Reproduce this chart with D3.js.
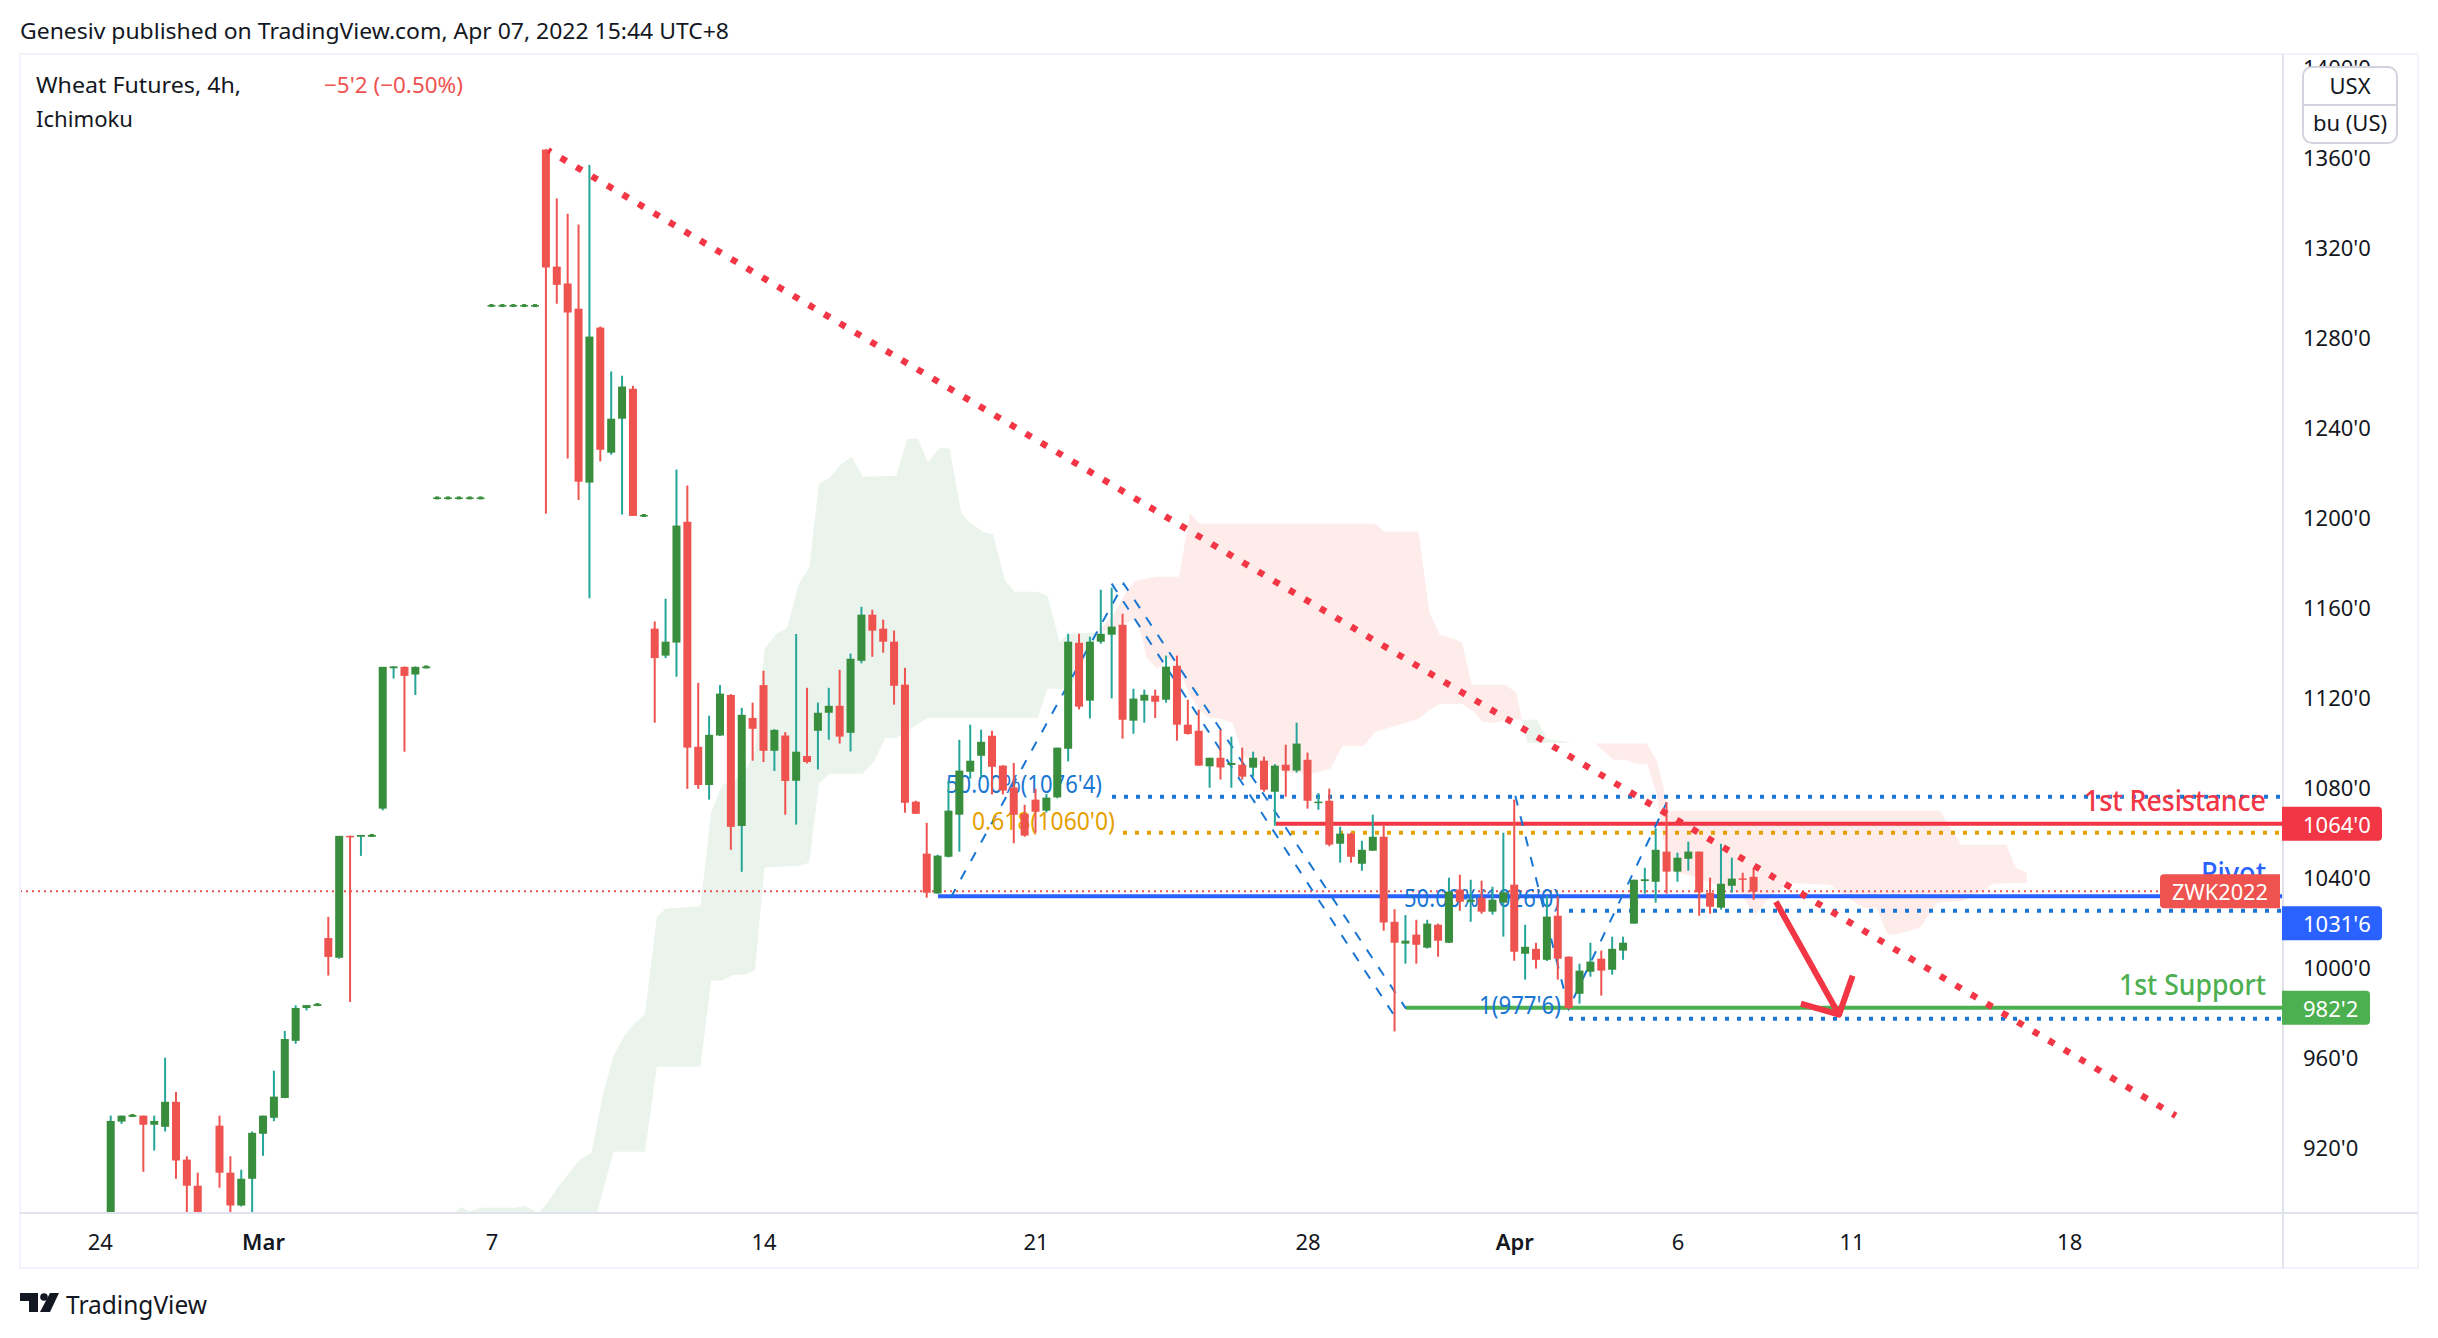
<!DOCTYPE html>
<html><head><meta charset="utf-8">
<script src="https://cdn.jsdelivr.net/npm/d3@7"></script>
<style>html,body{margin:0;padding:0;background:#fff}svg{display:block}text{font-family:"Noto Sans",sans-serif}</style>
</head><body><svg id="c" width="2438" height="1338"></svg>
<script>
const opens=[880,931.6,933.75,934.25,930.2,929.3,940.4,914.7,903.1,885,929.8,908.9,894.3,906.2,926.2,933.3,942.1,967.5,982.1,983,1013.2,1004.4,1058.6,1058.2,1058.2,1070.7,1133.1,1133.7,1130.3,1133.1,
1208.4,1208.4,1208.4,1208.4,1208.4,1293.9,1293.9,1293.9,1293.9,1293.9,1363.6,1311.6,1304.1,1292.9,1215.6,1284.5,1228.9,1244,1257.3,1200.8,1150.7,1138.7,1144.5,1198.2,1098.2,1081.2,1103.2,1121.2,1063,1111,1125.6,1096.4,1103.2,1083.1,
1094.1,1105.3,1113.3,1116.4,1104.4,1136.4,1156.9,1150.7,1144.9,1125.8,1073.8,1050.7,1033,1049.3,1068,1087.1,1094.2,1103.1,1089.8,1080.1,1068.3,1074.7,1069.8,1075.7,1097.3,1144.4,1118.7,1144.9,1148,1152.4,1109.8,1118.7,1120.9,1119.1,1134.2,1108,1105.3,1089.5,1093.3,1090.1,1090.2,1088.9,1092,1078.2,1090.2,1087.6,1092.4,1073.3,1074.2,1055.1,1059.6,1046.2,1052,1058.2,
1020.4,1010.7,1014.7,1008.9,1019.1,1011.1,1034.7,1029.3,1031.1,1024.9,1028.9,1036.9,1006.2,1008.4,1003.5,1023.1,1004.9,988.4,998.2,1004,999.1,1007.6,1019.6,1038.5,1038.2,1051.6,1042.7,1048.4,1051.6,1033.3,1026.7,1036.4,1039.7,1040.4];
const closes=[931.9,934.25,934.5,930.2,931.9,940.4,914.3,903.1,885,882,908.9,894.3,906.2,926.6,934.25,942.7,968.3,982.1,983.4,983.8,1004.8,1058.6,1058,1059,1059,1133.7,1133.9,1129.7,1133.7,1133.9,
1209,1209,1209,1209,1209,1294.5,1294.5,1294.5,1294.5,1294.5,1311.2,1303.5,1291.2,1216,1280.5,1230.2,1244,1258.3,1200.8,1201.2,1137.6,1144.9,1196.5,1097.8,1081.2,1103.5,1121.8,1062.6,1112.4,1106.2,1096.4,1105.7,1083,1096,
1091.4,1113.3,1116.4,1102.7,1137.3,1156.9,1149.8,1144.9,1125.3,1073.3,1068.4,1033.3,1049.8,1069.8,1087.6,1092,1100.4,1089.3,1078.7,1068,1058.7,1069.3,1075.6,1097.8,1144.9,1116,1144.9,1148.4,1151.6,1110.2,1119.6,1121.3,1118.2,1133.8,1108,1103.9,1089.8,1093.3,1089,1091,1084.9,1093.3,1079.1,1089.8,1087.6,1099.6,1074.2,1073.8,1054.7,1059.6,1049.3,1052.4,1058.2,1020.1,
1011.1,1012,1010.2,1019.6,1012,1033.8,1029.3,1030.2,1024.9,1030.2,1033.5,1007.1,1009.3,1003.5,1022.7,1004,982.1,998.7,1002.7,998.7,1008.4,1011.1,1039.1,1039.3,1052.4,1042.7,1048.9,1051.6,1033.5,1027.1,1037.3,1039.6,1039.1,1033.8];
const highs=[934.3,934.25,934.6,934.25,934.25,960,944.8,916.2,908.9,888,934.25,916.2,910.2,927.2,934.25,954.2,971.9,983.3,983.4,983.9,1022.6,1004.4,1058.7,1059,1059,1133.7,1134,1133.9,1133.9,1134,
1209,1209,1209,1209,1209,1294.5,1294.5,1294.5,1294.5,1294.5,1363.8,1341.9,1335.1,1330.3,1356.8,1285,1265,1263.1,1258.6,1201.2,1153.9,1164,1221.4,1214.3,1126.6,1112,1125.6,1121.6,1115.5,1117.8,1132,1106,1104.7,1148.3,
1124.4,1117.8,1124.4,1132.4,1139.6,1160.4,1159.1,1154.7,1149.8,1133.3,1074.2,1064.4,1050.2,1083,1101.3,1108,1105.8,1105.3,1090,1091,1072.4,1079.6,1077.2,1097.8,1148.4,1148.4,1147.1,1168,1168.9,1157.3,1124,1123.6,1123.6,1138.7,1138.7,1119.1,1114.7,1093.3,1105.8,1102.7,1097.8,1096,1093.8,1090.5,1099.1,1108.9,1095.6,1077.6,1079.6,1062.7,1060,1056.4,1068,1063,
1026,1023.4,1021.3,1021.3,1019.6,1040,1041.3,1039.1,1038.7,1036,1060,1074.7,1019.1,1011.1,1032,1031.6,1005,1001.8,1011.1,1007.6,1013.8,1013.8,1039.1,1044.4,1062,1073.6,1051.1,1056,1051.6,1040,1055.1,1048.9,1042.2,1044];
const lows=[878,930.6,933.5,909.3,918.7,927.2,906.2,885,880,878,902.2,885,893.9,885,916.4,931.8,942,966.2,981,983,996.5,1004,984.8,1049.7,1058,1069.9,1128.5,1096,1121.2,1133,
1208.4,1208.4,1208.4,1208.4,1208.4,1293.9,1293.9,1293.9,1293.9,1293.9,1201.8,1295.1,1226.3,1207.9,1164.2,1225,1228,1201.4,1200.8,1200.8,1108.9,1137.6,1129.3,1079.5,1079.5,1074.7,1103,1052.4,1042.6,1092,1091.4,1087.4,1068,1063.6,
1090.8,1088.1,1101.3,1099.6,1096.1,1135.3,1138.2,1140,1116.9,1068.9,1068.4,1031.1,1032.8,1049,1051.6,1084,1084.6,1077,1077,1055.3,1058.2,1060,1069,1075.3,1091.7,1114.8,1110.8,1144,1119.7,1101.8,1104,1108.9,1111,1117.8,1100.9,1103.6,1089.8,1080,1083.6,1080,1083.6,1084.9,1078.2,1063.1,1076,1086.7,1070.7,1070.2,1054,1046.7,1046.7,1043.1,1052,1016.4,
971.7,1001.8,1001.8,1008.5,1004.9,1011,1025.3,1020.4,1024,1023.6,1013.8,1003.1,994.7,999.6,1003,994.7,981.5,984,996,987.6,996.9,1003.5,1019.6,1032.9,1028.9,1032.9,1038.2,1043.1,1023.1,1024,1025.8,1033.3,1033.8,1030.2];

const greenUpIdx=[31.55,32.2,33,34,37.2,38.1,39.3,40.1,41.2,43.1,44.2,45.2,46.2,47.2,48.1,49.1,50.2,51,54.2,55.2,56.2,57.2,58.5,59.2,60.1,61.2,62.2,63.2,64.2,65.1,66.1,67.1,68.1,69.1,72.2,73.2,74.2,75.1,76.2,77.1,78.2,79.1,80.2,81.1,82.2,83.1,85.2,86.1,87.2,88.1,90.7];
const greenUpVal=[890.9,893.6,891.6,893.3,893.3,894.2,890.9,895.3,903.1,914.7,917.8,942.7,960.6,969.8,975.1,979.3,1022.7,1026.2,1027.3,1069.3,1081.3,1082.2,1088.9,1096.4,1141.8,1148.5,1151.1,1170.2,1177.8,1215.1,1217.8,1223.6,1227.1,1218.2,1218.7,1235.1,1235.1,1224.5,1231.1,1230.7,1201.8,1197.3,1193.8,1192.5,1172,1167.1,1167.1,1165.3,1144.9,1148.5,1148.9];
const greenLowIdx=[44.7,46.2,49.1,50.2,54.2,55.2,56.2,57.2,58.2,59.2,60.1,63.2,64.2,65.1,66.1,69.1,70.2,71.2,72.2,75.1,85.2,86.1,88.1,90.7];
const greenLowVal=[890.9,918.2,918.2,956,956,994.2,994.2,996.9,996.9,998.7,1044.5,1045.3,1046.7,1081.8,1086.2,1086.2,1092,1102.2,1102.2,1111.1,1111.1,1124,1124,1148.9];
const redUpIdx=[90.7,92.4,93.4,94.2,96.1,98.2,99.2,100.1,116.2,117.1,120.2,121.2,122.2,123.2,124.2,125.1,128.2,129.2,129.7];
const redUpVal=[1148.9,1158.7,1167.6,1172,1173.8,1173.8,1202.2,1197.3,1197.3,1193.8,1193.8,1157.8,1147.6,1146.7,1144.4,1125.8,1125.8,1122.2,1110.2];
const redLowIdx=[90.7,92.3,94.2,94.7,95.2,96.2,97.1,98,99.1,100.1,101,102,103.1,104.1,105,106.1,107.1,108.1,110.7,112.1,113.2,115.2,116.2,118.2,120.2,121.2,122.2,124.2,125.2,126.1,127.2,128.6,129.7];
const redLowVal=[1148.9,1151.1,1155.1,1148.5,1137.8,1132.9,1137.8,1135.1,1121.8,1114.2,1111.1,1110.7,1108.9,1094.2,1090.7,1089.8,1088.9,1086.7,1086.7,1088.4,1098.7,1098.7,1104.9,1107.6,1110.7,1114.7,1117.3,1117.3,1114.2,1109.3,1108.9,1110.7,1110.2];
const green2UpIdx=[129.7,131.1,132,134.4,136.1];
const green2UpVal=[1110.2,1110.2,1101.8,1100,1101.3];
const green2LowIdx=[129.7,130.2,134.4,136.1];
const green2LowVal=[1110.2,1100,1100,1101.3];
const red2UpIdx=[136.1,136.6,141.2,142.1,142.9,143.1,168.1,170.1,174.2,175.1,176.1];
const red2UpVal=[1101.3,1099.6,1099.6,1092,1076.4,1069.8,1069.8,1054.7,1054.7,1044.4,1042.2];
const red2LowIdx=[136.1,138.1,139.2,140.2,141.2,142.1,142.8,143.1,144.5,145.8,149.8,151.1,152.2,154.1,158,159.2,161.1,162.3,163.3,164.3,166.3,167.9,170.2,172.1,173,176.1];
const red2LowVal=[1101.3,1092.4,1092.4,1090.7,1090.7,1077.3,1053.3,1043.1,1041.8,1040,1032.9,1023.1,1029.8,1037.8,1036.9,1032.9,1026.7,1026.7,1014.7,1015.1,1017.8,1028.9,1029.8,1034.2,1037.3,1037.8];

const priceTicks=[1400,1360,1320,1280,1240,1200,1160,1120,1080,1040,1000,960,920];
const timeTickIdx=[-1,14,35,60,85,110,129,144,160,180];
const timeTickLabels=["24","Mar","7","14","21","28","Apr","6","11","18"];
const strongTicks=["Mar","Apr"];
const lastPrice=1034;
const resistance=1064, pivot=1031.75, support=982.25;
const fib50=1076, fib618=1060, fibLow50=1025.3, fibLow1=977.3;
const trendIdx=[40.2,189.8], trendVal=[1363.3,934.2];
const arrowIdx=[153.05,158.85], arrowVal=[1029.3,979.1];
const headIdx=[155.35,158.85,160.1], headVal=[984,979.1,996.4];
const zigA=[[77.2,1031.1],[93.1,1170.7],[119.05,981.8]];
const zigB=[[92,1170.7],[118.1,977.8]];
const zigC=[[129.1,1076.4],[134,981.8],[143,1073.3]];

const svg=d3.select("#c");
const L=20,R=2283,T=54,B=1213,FR=2418,FB=1268;
const x=d3.scaleLinear().domain([0,151]).range([110.7,1753.6]);
const y=d3.scaleLinear().domain([1360,1000]).range([157.7,967.7]);
svg.append("defs").append("clipPath").attr("id","plot").append("rect").attr("x",L).attr("y",T).attr("width",R-L).attr("height",B-T);
svg.append("defs").append("clipPath").attr("id","ax").append("rect").attr("x",R).attr("y",T).attr("width",FR-R).attr("height",B-T);

const ink="#131722", bull="#388e3c", bullWick="#26a69a", bear="#ef5350", lineRed="#f23645", lineBlue="#2962ff", lineGreen="#4caf50", fibBlue="#1976d2", fibGold="#e6a000";

function txt(g,s,px,py,size,fill,anchor,w,weight){
  const t=g.append("text").attr("x",px).attr("y",py).attr("font-size",size).attr("fill",fill).attr("text-anchor",anchor||"start").attr("dominant-baseline","central").text(s);
  if(w)t.attr("textLength",w).attr("lengthAdjust","spacingAndGlyphs");
  if(weight)t.attr("font-weight",weight);
  return t;
}
// header
txt(svg,"Genesiv published on TradingView.com, Apr 07, 2022 15:44 UTC+8",20,29.5,22,ink,"start",709);

const plot=svg.append("g").attr("clip-path","url(#plot)");
// clouds
function cloud(ui,uv,li,lv,fill){
  const pts=ui.map((d,k)=>[x(d),y(uv[k])]).concat(li.map((d,k)=>[x(d),y(lv[k])]).reverse());
  plot.append("path").attr("d",d3.line()(pts)+"Z").attr("fill",fill);
}
cloud(greenUpIdx,greenUpVal,greenLowIdx,greenLowVal,"#ebf4ec");
cloud(redUpIdx,redUpVal,redLowIdx,redLowVal,"#feecea");
cloud(green2UpIdx,green2UpVal,green2LowIdx,green2LowVal,"#ebf4ec");
cloud(red2UpIdx,red2UpVal,red2LowIdx,red2LowVal,"#feecea");

// last price line
plot.append("line").attr("x1",L).attr("x2",R).attr("y1",y(lastPrice)).attr("y2",y(lastPrice)).attr("stroke",bear).attr("stroke-width",2).attr("stroke-dasharray","2,4");
// fib + levels
function hline(v,x0,col,w,dash){
  const l=plot.append("line").attr("x1",x0).attr("x2",R).attr("y1",y(v)).attr("y2",y(v)).attr("stroke",col).attr("stroke-width",w);
  if(dash)l.attr("stroke-dasharray",dash);
}
hline(fib50,1112,fibBlue,4,"4,8");
hline(fib618,1123,fibGold,4,"4,8");
hline(fibLow50,1569,fibBlue,4,"4,8");
hline(fibLow1,1569,fibBlue,4,"4,8");
hline(resistance,1276,lineRed,4);
hline(pivot,938,lineBlue,4);
hline(support,1406,lineGreen,4);
const zig=d3.line().x(d=>x(d[0])).y(d=>y(d[1]));
[zigA,zigB,zigC].forEach(z=>plot.append("path").attr("d",zig(z)).attr("fill","none").attr("stroke",fibBlue).attr("stroke-width",2).attr("stroke-dasharray","10,11"));
txt(plot,"50.00%(1076'4)",946,783,25,fibBlue,"start",156);
txt(plot,"0.618(1060'0)",972,820,25,fibGold,"start",143);
txt(plot,"50.00%(1026'0)",1404,897,25,fibBlue,"start",156);
txt(plot,"1(977'6)",1479,1004,25,fibBlue,"start",82);

// candles
const bw=8;
opens.forEach((o,i)=>{
  const c=closes[i],h=highs[i],l=lows[i],up=c>=o,cx=x(i);
  const tiny=Math.abs(c-o)<1&&h-l<1.5;
  if(!tiny)plot.append("rect").attr("x",cx-1).attr("width",2).attr("y",y(h)).attr("height",Math.max(1,y(l)-y(h))).attr("fill",up?bullWick:bear);
  const top=y(Math.max(o,c)),hh=Math.max(1.5,Math.abs(y(o)-y(c)));
  plot.append("rect").attr("x",cx-bw/2).attr("width",bw).attr("y",top).attr("height",hh).attr("fill",up?bull:bear);
  if(tiny)plot.append("rect").attr("x",cx-2).attr("width",4).attr("y",top-1).attr("height",3).attr("fill",up?bull:bear);
});

// trend + arrow
plot.append("path").attr("d",d3.line()(trendIdx.map((d,k)=>[x(d),y(trendVal[k])]))).attr("fill","none").attr("stroke",lineRed).attr("stroke-width",6.5).attr("stroke-dasharray","6.5,11.52").attr("stroke-dashoffset",3.25);
plot.append("path").attr("d",d3.line()(arrowIdx.map((d,k)=>[x(d),y(arrowVal[k])]))).attr("fill","none").attr("stroke",lineRed).attr("stroke-width",6);
plot.append("path").attr("d",d3.line()(headIdx.map((d,k)=>[x(d),y(headVal[k])]))).attr("fill","none").attr("stroke",lineRed).attr("stroke-width",6).attr("stroke-linejoin","round");

// level captions
function cap(s,v,col,w){
  plot.append("text").attr("x",2266).attr("y",y(v)-13).attr("font-size",28).attr("font-weight",500).attr("fill",col).attr("text-anchor","end").attr("textLength",w).attr("lengthAdjust","spacingAndGlyphs").text(s);
}
cap("1st Resistance",resistance,lineRed,182);
cap("Pivot",pivot,lineBlue,65);
cap("1st Support",support,lineGreen,147);

// frame
const frame=svg.append("g");
frame.append("rect").attr("x",L).attr("y",T).attr("width",FR-L).attr("height",FB-T).attr("fill","none").attr("stroke","#f0f3fa").attr("stroke-width",2);
frame.append("line").attr("x1",R).attr("x2",R).attr("y1",T).attr("y2",FB).attr("stroke","#e0e3eb").attr("stroke-width",2);
frame.append("line").attr("x1",L).attr("x2",FR).attr("y1",B).attr("y2",B).attr("stroke","#e0e3eb").attr("stroke-width",2);

// legend
txt(svg,"Wheat Futures, 4h,",36,83.5,22,ink,"start",205);
txt(svg,"\u22125'2 (\u22120.50%)",324,83.5,22,bear,"start",139);
txt(svg,"Ichimoku",36,117.5,22,ink,"start",97);

// axes
const yAxis=d3.axisRight(y).tickValues(priceTicks).tickFormat(d=>d+"'0").tickSize(0).tickPadding(0);
const gy=svg.append("g").attr("clip-path","url(#ax)").append("g").attr("transform","translate(2303,-1)").call(yAxis);
gy.select(".domain").remove();
gy.selectAll("text").attr("font-size",22).attr("fill",ink).attr("font-family",'"Noto Sans",sans-serif').attr("dy",null).attr("dominant-baseline","central");
const xAxis=d3.axisBottom(x).tickValues(timeTickIdx).tickFormat((d,k)=>timeTickLabels[k]).tickSize(0).tickPadding(0);
const gx=svg.append("g").attr("transform","translate(0,1240.5)").call(xAxis);
gx.select(".domain").remove();
gx.selectAll("text").attr("font-size",22).attr("fill",ink).attr("font-family",'"Noto Sans",sans-serif').attr("y",0).attr("dy",null).attr("dominant-baseline","central").attr("font-weight",(d,k)=>strongTicks.includes(timeTickLabels[k])?600:400);

// unit box
const box=svg.append("g");
box.append("rect").attr("x",2303).attr("y",67).attr("width",94).attr("height",76).attr("rx",9).attr("fill","#fff").attr("stroke","#d1d4dc").attr("stroke-width",2);
box.append("line").attr("x1",2303).attr("x2",2397).attr("y1",105).attr("y2",105).attr("stroke","#d1d4dc").attr("stroke-width",2);
txt(box,"USX",2350,84.5,22,ink,"middle");
txt(box,"bu (US)",2350,121.5,22,ink,"middle");

// price tags
function tagR(v,w,col,s,shift){
  const cy=y(v)+(shift||0),h=34,r=4,x0=2282;
  svg.append("path").attr("d",`M${x0},${cy-h/2}H${x0+w-r}a${r},${r} 0 0 1 ${r},${r}V${cy+h/2-r}a${r},${r} 0 0 1 ${-r},${r}H${x0}Z`).attr("fill",col);
  txt(svg,s,2303,cy,22,"#fff");
}
tagR(resistance,100,lineRed,"1064'0");
tagR(pivot,100,lineBlue,"1031'6",27);
tagR(support,88,lineGreen,"982'2");
const zy=y(lastPrice);
svg.append("path").attr("d",`M2280,${zy-17}H2164a4,4 0 0 0 -4,4V${zy+13}a4,4 0 0 0 4,4H2280Z`).attr("fill",bear);
txt(svg,"ZWK2022",2220,zy,22,"#fff","middle",96);

// logo
const logo=svg.append("g").attr("fill",ink);
logo.append("path").attr("d","M20,1293H38V1312H29V1301H20Z");
logo.append("circle").attr("cx",44).attr("cy",1297).attr("r",3.8);
logo.append("path").attr("d","M50,1293H59L50,1312H40Z");
txt(svg,"TradingView",66,1303.5,26,ink,"start",141);
</script></body></html>
